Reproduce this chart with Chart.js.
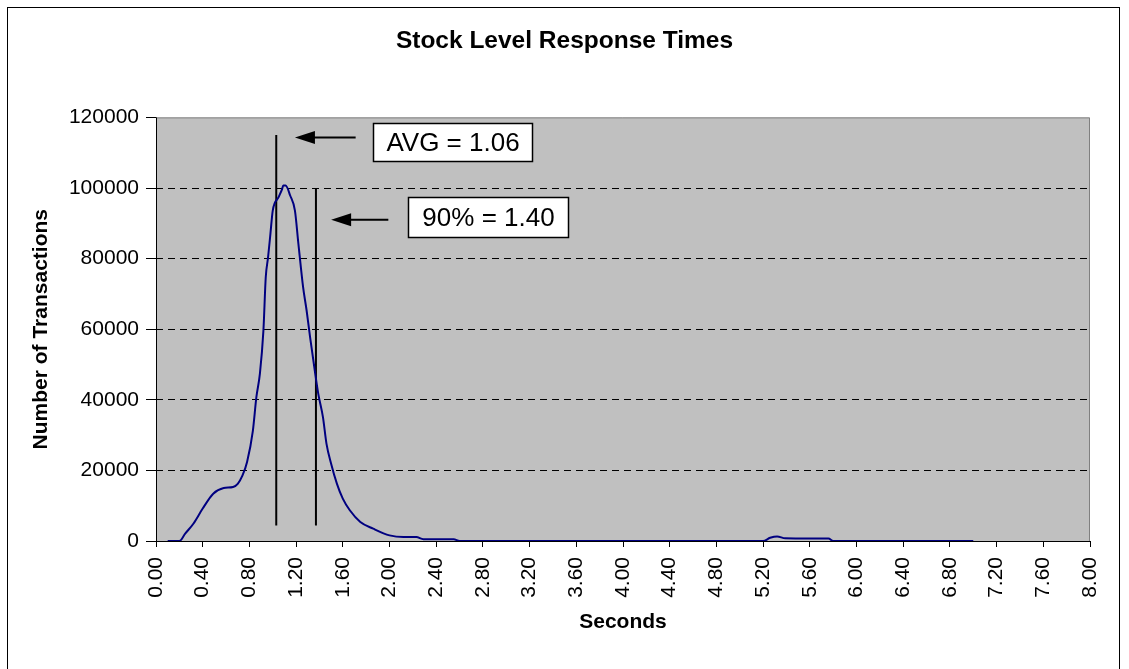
<!DOCTYPE html>
<html>
<head>
<meta charset="utf-8">
<script src="https://cdn.jsdelivr.net/npm/chart.js@4.4.1/dist/chart.umd.min.js"></script>
<style>
  html, body { margin: 0; padding: 0; background: #ffffff; }
  canvas { display: block; }
</style>
</head>
<body>
<canvas id="c" width="1129" height="669"></canvas>
<script>
// ---- data ----
const seconds = [0.10,0.20,0.25,0.32,0.40,0.49,0.58,0.66,0.70,0.74,0.78,0.83,0.86,0.89,0.92,0.94,0.96,0.98,1.00,1.05,1.08,1.09,1.11,1.15,1.19,1.22,1.26,1.29,1.32,1.36,1.39,1.43,1.46,1.50,1.55,1.60,1.66,1.75,1.86,2.00,2.12,2.23,2.29,2.40,2.55,2.60,3.00,4.00,5.00,5.20,5.26,5.32,5.39,5.60,5.76,5.80,6.00,6.50,7.00];
const transactions = [0,0,2100,4900,9200,13400,15000,15300,16200,18500,22400,31300,40800,47400,59600,74700,80400,87000,93600,97400,99700,100700,100700,97800,93600,84100,71900,65300,57700,48300,41700,35100,27600,21900,16200,12000,8700,5400,3500,1600,1100,1100,500,500,500,0,0,0,0,0,900,1300,750,700,700,0,0,0,0];
const xTickValues = [0,0.4,0.8,1.2,1.6,2.0,2.4,2.8,3.2,3.6,4.0,4.4,4.8,5.2,5.6,6.0,6.4,6.8,7.2,7.6,8.0];
const yTickValues = [0,20000,40000,60000,80000,100000,120000];

// annotation marks (data space)
const avgLineX = 1.03, avgLineY = [4400, 115000];
const p90LineX = 1.37, p90LineY = [4400, 99700];
const avgArrow = { from: [1.71, 114300], to: [1.19, 114300] };
const p90Arrow = { from: [1.99, 91000], to: [1.50, 91000] };
const avgLabel = { text: 'AVG = 1.06', x0: 1.86, x1: 3.22, y0: 118400, y1: 107550 };
const p90Label = { text: '90% = 1.40', x0: 2.16, x1: 3.53, y0: 97400, y1: 86000 };

const FONT = "'Liberation Sans', Arial, sans-serif";

const points = seconds.map((s, i) => ({ x: s, y: transactions[i] }));

const bgPlugin = {
  id: 'bg',
  beforeDraw(chart) {
    const { ctx, chartArea: a } = chart;
    ctx.save();
    ctx.fillStyle = '#ffffff';
    ctx.fillRect(0, 0, chart.width, chart.height);
    ctx.fillStyle = '#c0c0c0';
    ctx.fillRect(a.left, a.top, a.right - a.left, a.bottom - a.top);
    ctx.restore();
  },
  beforeDatasetsDraw(chart) {
    const { ctx, chartArea: a } = chart;
    ctx.save();
    ctx.lineWidth = 1;
    ctx.strokeStyle = '#808080';
    ctx.beginPath();
    ctx.moveTo(a.left, a.top + 0.5);
    ctx.lineTo(a.right - 0.5, a.top + 0.5);
    ctx.lineTo(a.right - 0.5, a.bottom);
    ctx.stroke();
    ctx.strokeStyle = '#000000';
    ctx.beginPath();
    ctx.moveTo(a.left + 0.5, a.top);
    ctx.lineTo(a.left + 0.5, a.bottom + 0.5);
    ctx.lineTo(a.right, a.bottom + 0.5);
    ctx.stroke();
    ctx.restore();
  },
  afterDraw(chart) {
    const { ctx } = chart;
    ctx.save();
    ctx.strokeStyle = '#000000';
    ctx.lineWidth = 1;
    ctx.strokeRect(7.5, 7.5, 1112, 700);
    ctx.restore();
  }
};

const annoPlugin = {
  id: 'anno',
  afterDatasetsDraw(chart) {
    const { ctx, scales: { x, y } } = chart;
    ctx.save();
    const arrow = (a) => {
      const x1 = x.getPixelForValue(a.from[0]), y1 = y.getPixelForValue(a.from[1]);
      const x2 = x.getPixelForValue(a.to[0]), y2 = y.getPixelForValue(a.to[1]);
      ctx.strokeStyle = '#000'; ctx.fillStyle = '#000'; ctx.lineWidth = 2;
      ctx.beginPath(); ctx.moveTo(x1, y1); ctx.lineTo(x2 + 16, y2); ctx.stroke();
      ctx.beginPath(); ctx.moveTo(x2, y2); ctx.lineTo(x2 + 20, y2 - 6.5); ctx.lineTo(x2 + 20, y2 + 6.5); ctx.closePath(); ctx.fill();
    };
    arrow(avgArrow); arrow(p90Arrow);
    const box = (b) => {
      const l = Math.round(x.getPixelForValue(b.x0)) + 0.5, r = Math.round(x.getPixelForValue(b.x1)) + 0.5;
      const t = Math.round(y.getPixelForValue(b.y0)) + 0.5, bt = Math.round(y.getPixelForValue(b.y1)) + 0.5;
      ctx.fillStyle = '#fff'; ctx.fillRect(l, t, r - l, bt - t);
      ctx.strokeStyle = '#000'; ctx.lineWidth = 1.5; ctx.strokeRect(l, t, r - l, bt - t);
      ctx.fillStyle = '#000'; ctx.font = '26px ' + FONT; ctx.textAlign = 'center'; ctx.textBaseline = 'middle';
      ctx.fillText(b.text, (l + r) / 2, (t + bt) / 2 + 1);
    };
    box(avgLabel); box(p90Label);
    ctx.restore();
  }
};

new Chart(document.getElementById('c'), {
  type: 'scatter',
  data: {
    datasets: [
      { data: points, showLine: true, borderColor: '#000080', borderWidth: 2, pointRadius: 0, tension: 0.25, cubicInterpolationMode: 'monotone', fill: false },
      { data: [{ x: avgLineX, y: avgLineY[0] }, { x: avgLineX, y: avgLineY[1] }], showLine: true, borderColor: '#000', borderWidth: 2, pointRadius: 0 },
      { data: [{ x: p90LineX, y: p90LineY[0] }, { x: p90LineX, y: p90LineY[1] }], showLine: true, borderColor: '#000', borderWidth: 2, pointRadius: 0 }
    ]
  },
  options: {
    responsive: false,
    animation: false,
    devicePixelRatio: 1,
    layout: { padding: { left: 0, right: 0, top: 0, bottom: 0 } },
    plugins: {
      legend: { display: false },
      tooltip: { enabled: false },
      title: { display: true, text: 'Stock Level Response Times', color: '#000', font: { family: FONT, size: 24.5, weight: 'bold' }, padding: { top: 27, bottom: 61 } }
    },
    scales: {
      x: {
        type: 'linear', min: 0, max: 8,
        afterBuildTicks(s) { s.ticks = xTickValues.map(v => ({ value: v })); },
        afterFit(s) { s.height = 128; },
        ticks: { autoSkip: false, maxRotation: 90, minRotation: 90, padding: 10, color: '#000', font: { family: FONT, size: 21 }, callback: v => Number(v).toFixed(2) },
        grid: { drawOnChartArea: false, drawTicks: true, tickLength: 6, tickColor: '#000', color: '#000', tickBorderDash: [] },
        border: { display: false },
        title: { display: true, text: 'Seconds', color: '#000', font: { family: FONT, size: 21, weight: 'bold' }, padding: { top: 0, bottom: 34 } }
      },
      y: {
        type: 'linear', min: 0, max: 120000,
        afterBuildTicks(s) { s.ticks = yTickValues.map(v => ({ value: v })); },
        afterFit(s) { s.width = 156; },
        ticks: { padding: 7, color: '#000', font: { family: FONT, size: 21 }, callback: v => String(v) },
        grid: {
          drawOnChartArea: true, drawTicks: true, tickLength: 10, tickColor: '#000', tickBorderDash: [],
          color: ctx => (ctx.tick && (ctx.tick.value === 0 || ctx.tick.value === 120000)) ? 'rgba(0,0,0,0)' : '#000'
        },
        border: { display: false, dash: [7, 5] },
        title: { display: true, text: 'Number of Transactions', color: '#000', font: { family: FONT, size: 21, weight: 'bold' }, padding: { top: 29, bottom: 0 } }
      },
      spacer: {
        type: 'linear', position: 'right', display: true,
        afterFit(s) { s.width = 39; },
        ticks: { display: false },
        grid: { display: false, drawTicks: false },
        border: { display: false }
      }
    }
  },
  plugins: [bgPlugin, annoPlugin]
});
</script>
</body>
</html>
